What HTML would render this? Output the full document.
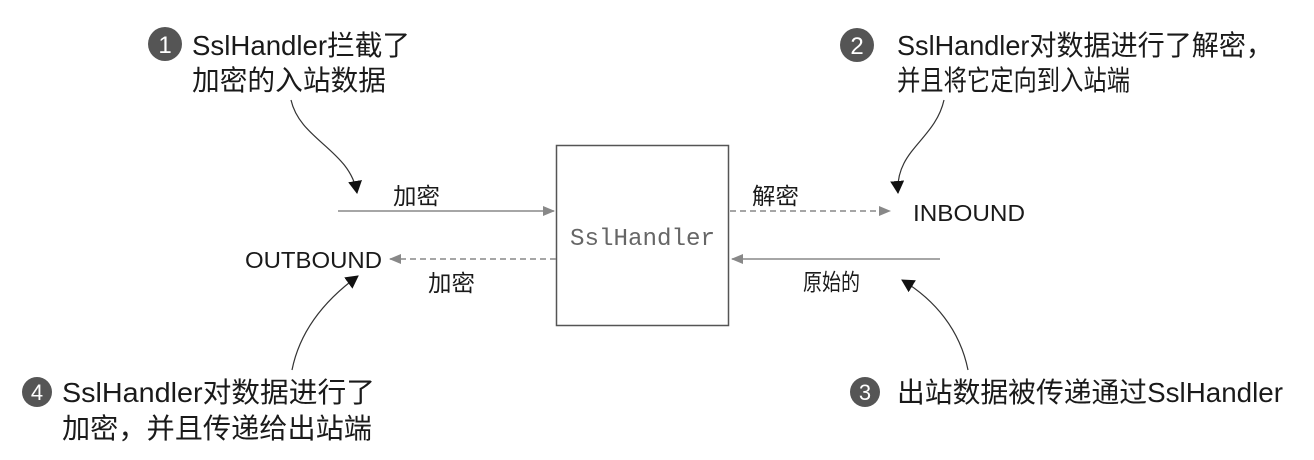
<!DOCTYPE html>
<html><head><meta charset="utf-8"><style>
html,body{margin:0;padding:0;background:#fff;}
svg{display:block}
text{font-family:"Liberation Sans","Noto Sans CJK SC",sans-serif;fill:#1a1a1a}
</style></head><body>
<svg width="1314" height="460" viewBox="0 0 1314 460" xmlns="http://www.w3.org/2000/svg">
<defs>
<marker id="g" markerWidth="12" markerHeight="10" refX="11" refY="5" orient="auto" markerUnits="userSpaceOnUse"><path d="M0,0 L12,5 L0,10 Z" fill="#888"/></marker>
<marker id="b" markerWidth="14" markerHeight="14" refX="12" refY="7" orient="auto" markerUnits="userSpaceOnUse"><path d="M0,0 L13,7 L0,14 Z" fill="#111"/></marker>
</defs>
<rect x="556.5" y="145.5" width="172" height="180" fill="#fff" stroke="#555" stroke-width="1.5"/>
<text x="570" y="245" style="font-family:'Liberation Mono',monospace;fill:#666" font-size="24" textLength="145" lengthAdjust="spacingAndGlyphs">SslHandler</text>
<line x1="338" y1="211" x2="554" y2="211" stroke="#888" stroke-width="1.6" marker-end="url(#g)"/>
<line x1="556" y1="259" x2="390" y2="259" stroke="#888" stroke-width="1.6" stroke-dasharray="6,4" marker-end="url(#g)"/>
<line x1="730" y1="211" x2="890" y2="211" stroke="#888" stroke-width="1.6" stroke-dasharray="6,4" marker-end="url(#g)"/>
<line x1="940" y1="259" x2="732" y2="259" stroke="#888" stroke-width="1.6" marker-end="url(#g)"/>
<g font-size="23">
<text x="393" y="204" textLength="47" lengthAdjust="spacingAndGlyphs">加密</text>
<text x="428" y="291" textLength="47" lengthAdjust="spacingAndGlyphs">加密</text>
<text x="752" y="204" textLength="47" lengthAdjust="spacingAndGlyphs">解密</text>
<text x="803" y="290" textLength="57" lengthAdjust="spacingAndGlyphs">原始的</text>
<text x="245" y="268" textLength="137" lengthAdjust="spacingAndGlyphs">OUTBOUND</text>
<text x="913" y="221" textLength="112" lengthAdjust="spacingAndGlyphs">INBOUND</text>
</g>
<path d="M291,100 C300,140 350,150 357,193" fill="none" stroke="#333" stroke-width="1.2" marker-end="url(#b)"/>
<path d="M944,100 C935,140 895,150 898,193" fill="none" stroke="#333" stroke-width="1.2" marker-end="url(#b)"/>
<path d="M968,370 C960,330 935,300 902,280" fill="none" stroke="#333" stroke-width="1.2" marker-end="url(#b)"/>
<path d="M292,370 C300,330 325,300 358,276" fill="none" stroke="#333" stroke-width="1.2" marker-end="url(#b)"/>
<g font-size="28">
<circle cx="165" cy="44" r="17" fill="#555"/><text x="165" y="53" text-anchor="middle" font-size="24" style="fill:#fff">1</text>
<text x="192" y="55" textLength="218" lengthAdjust="spacingAndGlyphs">SslHandler拦截了</text>
<text x="192" y="90" textLength="194" lengthAdjust="spacingAndGlyphs">加密的入站数据</text>
<circle cx="857" cy="45" r="17" fill="#555"/><text x="857" y="54" text-anchor="middle" font-size="24" style="fill:#fff">2</text>
<text x="897" y="55" textLength="376" lengthAdjust="spacingAndGlyphs">SslHandler对数据进行了解密，</text>
<text x="897" y="90" textLength="233" lengthAdjust="spacingAndGlyphs">并且将它定向到入站端</text>
<circle cx="865" cy="392" r="15" fill="#555"/><text x="865" y="400" text-anchor="middle" font-size="22" style="fill:#fff">3</text>
<text x="897" y="402" textLength="386" lengthAdjust="spacingAndGlyphs">出站数据被传递通过SslHandler</text>
<circle cx="37" cy="392" r="15" fill="#555"/><text x="37" y="400" text-anchor="middle" font-size="22" style="fill:#fff">4</text>
<text x="62" y="402" textLength="313" lengthAdjust="spacingAndGlyphs">SslHandler对数据进行了</text>
<text x="62" y="438" textLength="310" lengthAdjust="spacingAndGlyphs">加密，并且传递给出站端</text>
</g>
</svg>
</body></html>
